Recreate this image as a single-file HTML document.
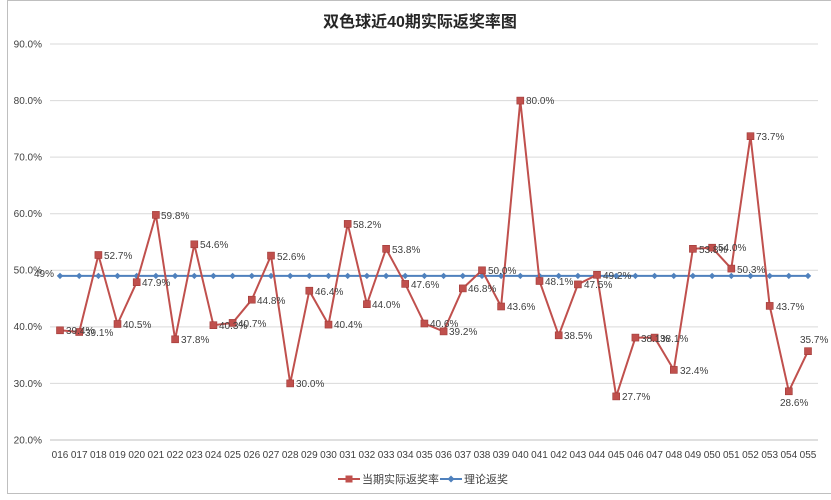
<!DOCTYPE html>
<html><head><meta charset="utf-8"><style>
html,body{margin:0;padding:0;background:#fff;}
svg{display:block;font-family:"Liberation Sans","Noto Sans CJK SC",sans-serif;}
</style></head><body>
<svg width="831" height="500" viewBox="0 0 831 500" xmlns="http://www.w3.org/2000/svg">
<defs>
<marker id="sq" markerWidth="8" markerHeight="8" refX="4" refY="4" markerUnits="userSpaceOnUse"><rect x="0.5" y="0.5" width="7" height="7" fill="#c0504d" stroke="#a03a37" stroke-width="0.6"/></marker>
<marker id="dm" markerWidth="8" markerHeight="8" refX="4" refY="4" markerUnits="userSpaceOnUse"><path d="M4 0.8L7.2 4L4 7.2L0.8 4Z" fill="#4f81bd"/></marker>
</defs>
<rect x="0" y="0" width="831" height="500" fill="#fff"/>
<rect x="7.5" y="0.5" width="830" height="493" fill="none" stroke="#bfbfbf"/>
<text x="420" y="27" font-size="16" font-weight="bold" text-anchor="middle" fill="#262626">双色球近40期实际返奖率图</text>
<g stroke="#d9d9d9" stroke-width="1">
<line x1="50" x2="818" y1="44" y2="44"/><line x1="50" x2="818" y1="100.6" y2="100.6"/>
<line x1="50" x2="818" y1="157.1" y2="157.1"/><line x1="50" x2="818" y1="213.7" y2="213.7"/>
<line x1="50" x2="818" y1="270.3" y2="270.3"/><line x1="50" x2="818" y1="326.9" y2="326.9"/>
<line x1="50" x2="818" y1="383.4" y2="383.4"/>
</g>
<line x1="50" x2="818" y1="440" y2="440" stroke="#bfbfbf"/>
<g font-size="10" fill="#404040" text-anchor="end">
<text x="42" y="47.5">90.0%</text><text x="42" y="104">80.0%</text><text x="42" y="160.5">70.0%</text>
<text x="42" y="217">60.0%</text><text x="42" y="273.5">50.0%</text><text x="42" y="330">40.0%</text>
<text x="42" y="387">30.0%</text><text x="42" y="443.5">20.0%</text>
</g>
<g font-size="10" fill="#404040" text-anchor="middle">
<text x="60" y="458">016</text><text x="79.2" y="458">017</text><text x="98.4" y="458">018</text><text x="117.5" y="458">019</text><text x="136.7" y="458">020</text><text x="155.9" y="458">021</text><text x="175.1" y="458">022</text><text x="194.3" y="458">023</text><text x="213.4" y="458">024</text><text x="232.6" y="458">025</text><text x="251.8" y="458">026</text><text x="271" y="458">027</text><text x="290.2" y="458">028</text><text x="309.3" y="458">029</text><text x="328.5" y="458">030</text><text x="347.7" y="458">031</text><text x="366.9" y="458">032</text><text x="386.1" y="458">033</text><text x="405.2" y="458">034</text><text x="424.4" y="458">035</text><text x="443.6" y="458">036</text><text x="462.8" y="458">037</text><text x="482" y="458">038</text><text x="501.1" y="458">039</text><text x="520.3" y="458">040</text><text x="539.5" y="458">041</text><text x="558.7" y="458">042</text><text x="577.9" y="458">043</text><text x="597" y="458">044</text><text x="616.2" y="458">045</text><text x="635.4" y="458">046</text><text x="654.6" y="458">047</text><text x="673.8" y="458">048</text><text x="692.9" y="458">049</text><text x="712.1" y="458">050</text><text x="731.3" y="458">051</text><text x="750.5" y="458">052</text><text x="769.7" y="458">053</text><text x="788.8" y="458">054</text><text x="808" y="458">055</text>
</g>
<polyline fill="none" stroke="#4f81bd" stroke-width="2" marker-start="url(#dm)" marker-mid="url(#dm)" marker-end="url(#dm)" points="60,275.9 79.2,275.9 98.4,275.9 117.5,275.9 136.7,275.9 155.9,275.9 175.1,275.9 194.3,275.9 213.4,275.9 232.6,275.9 251.8,275.9 271,275.9 290.2,275.9 309.3,275.9 328.5,275.9 347.7,275.9 366.9,275.9 386.1,275.9 405.2,275.9 424.4,275.9 443.6,275.9 462.8,275.9 482,275.9 501.1,275.9 520.3,275.9 539.5,275.9 558.7,275.9 577.9,275.9 597,275.9 616.2,275.9 635.4,275.9 654.6,275.9 673.8,275.9 692.9,275.9 712.1,275.9 731.3,275.9 750.5,275.9 769.7,275.9 788.8,275.9 808,275.9"/>
<polyline fill="none" stroke="#c0504d" stroke-width="2" marker-start="url(#sq)" marker-mid="url(#sq)" marker-end="url(#sq)" points="60,330.3 79.2,332 98.4,255 117.5,324 136.7,282.2 155.9,214.9 175.1,339.3 194.3,244.3 213.4,325.2 232.6,322.9 251.8,299.7 271,255.6 290.2,383.4 309.3,290.7 328.5,324.6 347.7,223.9 366.9,304.2 386.1,248.8 405.2,283.9 424.4,323.5 443.6,331.4 462.8,288.4 482,270.3 501.1,306.5 520.3,100.6 539.5,281 558.7,335.3 577.9,284.4 597,274.8 616.2,396.4 635.4,337.6 654.6,337.6 673.8,369.9 692.9,248.8 712.1,247.7 731.3,268.6 750.5,136.2 769.7,305.9 788.8,391.3 808,351.2"/>
<g font-size="10" fill="#404040">
<text x="34" y="277">49%</text>
<text x="66" y="334">39.4%</text><text x="85" y="336">39.1%</text><text x="104" y="259">52.7%</text><text x="123" y="328">40.5%</text><text x="142" y="286">47.9%</text><text x="161" y="219">59.8%</text><text x="181" y="343">37.8%</text><text x="200" y="248">54.6%</text><text x="219" y="329">40.3%</text><text x="238" y="327">40.7%</text><text x="257" y="304">44.8%</text><text x="277" y="260">52.6%</text><text x="296" y="387">30.0%</text><text x="315" y="295">46.4%</text><text x="334" y="328">40.4%</text><text x="353" y="228">58.2%</text><text x="372" y="308">44.0%</text><text x="392" y="253">53.8%</text><text x="411" y="288">47.6%</text><text x="430" y="327">40.6%</text><text x="449" y="335">39.2%</text><text x="468" y="292">46.8%</text><text x="488" y="274">50.0%</text><text x="507" y="310">43.6%</text><text x="526" y="104">80.0%</text><text x="545" y="285">48.1%</text><text x="564" y="339">38.5%</text><text x="584" y="288">47.5%</text><text x="603" y="279">49.2%</text><text x="622" y="400">27.7%</text><text x="641" y="342">38.1%</text><text x="660" y="342">38.1%</text><text x="680" y="374">32.4%</text><text x="699" y="253">53.8%</text><text x="718" y="251">54.0%</text><text x="737" y="273">50.3%</text><text x="756" y="140">73.7%</text><text x="776" y="310">43.7%</text><text x="780" y="406">28.6%</text><text x="800" y="343">35.7%</text>
</g>
<g font-size="11" fill="#404040">
<line x1="338" x2="360" y1="479" y2="479" stroke="#c0504d" stroke-width="2"/><rect x="345.5" y="475.5" width="7" height="7" fill="#c0504d"/>
<text x="362" y="483">当期实际返奖率</text>
<line x1="440" x2="462" y1="479" y2="479" stroke="#4f81bd" stroke-width="2"/><path d="M451 475.5L454.5 479L451 482.5L447.5 479Z" fill="#4f81bd"/>
<text x="464" y="483">理论返奖</text>
</g>
</svg>
</body></html>
